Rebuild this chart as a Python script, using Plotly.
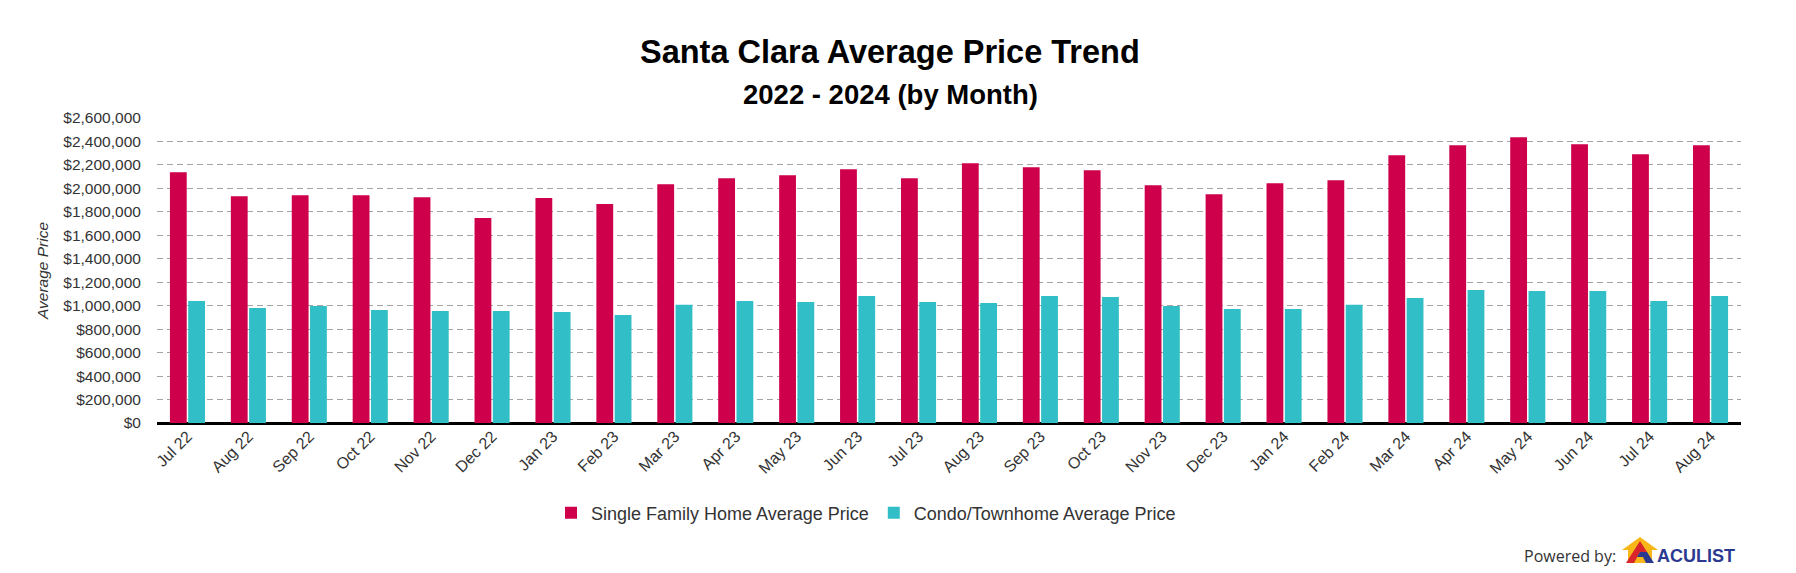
import plotly.graph_objects as go

months = ["Jul 22", "Aug 22", "Sep 22", "Oct 22", "Nov 22", "Dec 22",
          "Jan 23", "Feb 23", "Mar 23", "Apr 23", "May 23", "Jun 23",
          "Jul 23", "Aug 23", "Sep 23", "Oct 23", "Nov 23", "Dec 23",
          "Jan 24", "Feb 24", "Mar 24", "Apr 24", "May 24", "Jun 24",
          "Jul 24", "Aug 24"]

single_family = [2138000, 1934000, 1942000, 1942000, 1925000, 1747000,
                 1917000, 1866000, 2036000, 2087000, 2112000, 2163000,
                 2087000, 2214000, 2180000, 2155000, 2027000, 1951000,
                 2044000, 2070000, 2282000, 2367000, 2435000, 2376000,
                 2291000, 2367000]

condo = [1041000, 981000, 998000, 964000, 955000, 955000,
         947000, 921000, 1007000, 1041000, 1032000, 1083000,
         1032000, 1024000, 1083000, 1075000, 998000, 972000,
         972000, 1007000, 1066000, 1134000, 1126000, 1126000,
         1041000, 1083000]

y_ticks = list(range(0, 2600001, 200000))
y_tick_labels = ["$" + format(v, ",") for v in y_ticks]

W, H = 1796, 573
L, R, T, B = 157, 55, 118, 150
PW, PH = W - L - R, H - T - B


def px(x):
    return (x - L) / PW


def py(y):
    return (H - B - y) / PH


fig = go.Figure()
fig.add_trace(go.Bar(x=months, y=single_family, name="Single Family Home Average Price",
                     marker_color="#CE004B", marker_line_width=0))
fig.add_trace(go.Bar(x=months, y=condo, name="Condo/Townhome Average Price",
                     marker_color="#32BEC6", marker_line_width=0))

font_main = "Liberation Sans, Arial, sans-serif"

fig.update_layout(
    width=W, height=H,
    margin=dict(l=L, r=R, t=T, b=B, pad=0),
    paper_bgcolor="white", plot_bgcolor="white",
    barmode="group", bargap=0.40, bargroupgap=0.08,
    font=dict(family=font_main, color="#333333", size=15),
    showlegend=True,
    legend=dict(orientation="h", x=px(866), y=py(513), xanchor="center", yanchor="middle",
                font=dict(size=18, color="#333333", family=font_main),
                itemwidth=30, traceorder="normal"),
    xaxis=dict(tickangle=-45, tickfont=dict(size=16, color="#333333"),
               showgrid=False, showline=False, ticks="", fixedrange=True),
    yaxis=dict(range=[0, 2600000], tickvals=y_ticks, ticktext=y_tick_labels,
               tickfont=dict(size=15.5, color="#333333"),
               showgrid=True, gridcolor="#a4a4a4", gridwidth=1, griddash="6px,4px",
               zeroline=True, zerolinecolor="#000000", zerolinewidth=2.5,
               ticks="outside", ticklen=12, tickcolor="rgba(0,0,0,0)",
               title=dict(text="<i>Average Price</i>", font=dict(size=15.5, color="#333333"), standoff=10)),
)

fig.add_annotation(text="<b>Santa Clara Average Price Trend</b>", x=px(890), y=py(52),
                   xref="paper", yref="paper", showarrow=False, xanchor="center", yanchor="middle",
                   font=dict(size=32.5, color="#000000", family=font_main))
fig.add_annotation(text="<b>2022 - 2024 (by Month)</b>", x=px(890), y=py(94),
                   xref="paper", yref="paper", showarrow=False, xanchor="center", yanchor="middle",
                   font=dict(size=27.5, color="#000000", family=font_main))

fig.add_annotation(text="Powered by:", x=px(1618), y=py(556),
                   xref="paper", yref="paper", showarrow=False, xanchor="right", yanchor="middle",
                   font=dict(size=16, color="#333333", family="Open Sans, sans-serif"))
fig.add_annotation(text="<b>ACULIST</b>", x=px(1655), y=py(556),
                   xref="paper", yref="paper", showarrow=False, xanchor="left", yanchor="middle",
                   font=dict(size=18, color="#2B3990", family="Liberation Sans, Arial, sans-serif"))


def path(points):
    s = "M " + " L ".join(f"{px(a):.5f},{py(b):.5f}" for a, b in points) + " Z"
    return s


# logo: yellow house outline, red "A", blue wedge
fig.add_shape(type="path", xref="paper", yref="paper", line_width=0, fillcolor="#F7B718",
              path=path([(1622, 550), (1640, 537), (1658, 550), (1652, 550), (1652, 563),
                         (1628, 563), (1628, 550)]))
fig.add_shape(type="path", xref="paper", yref="paper", line_width=0, fillcolor="#D9262B",
              path=path([(1626, 563), (1640, 541), (1647, 552), (1640, 552), (1634, 563)]))
fig.add_shape(type="path", xref="paper", yref="paper", line_width=0, fillcolor="#2B3990",
              path=path([(1640, 541), (1654, 563), (1646, 563), (1643, 557), (1637, 557), (1640, 552), (1647, 552)]))

fig.write_html("out.html")
